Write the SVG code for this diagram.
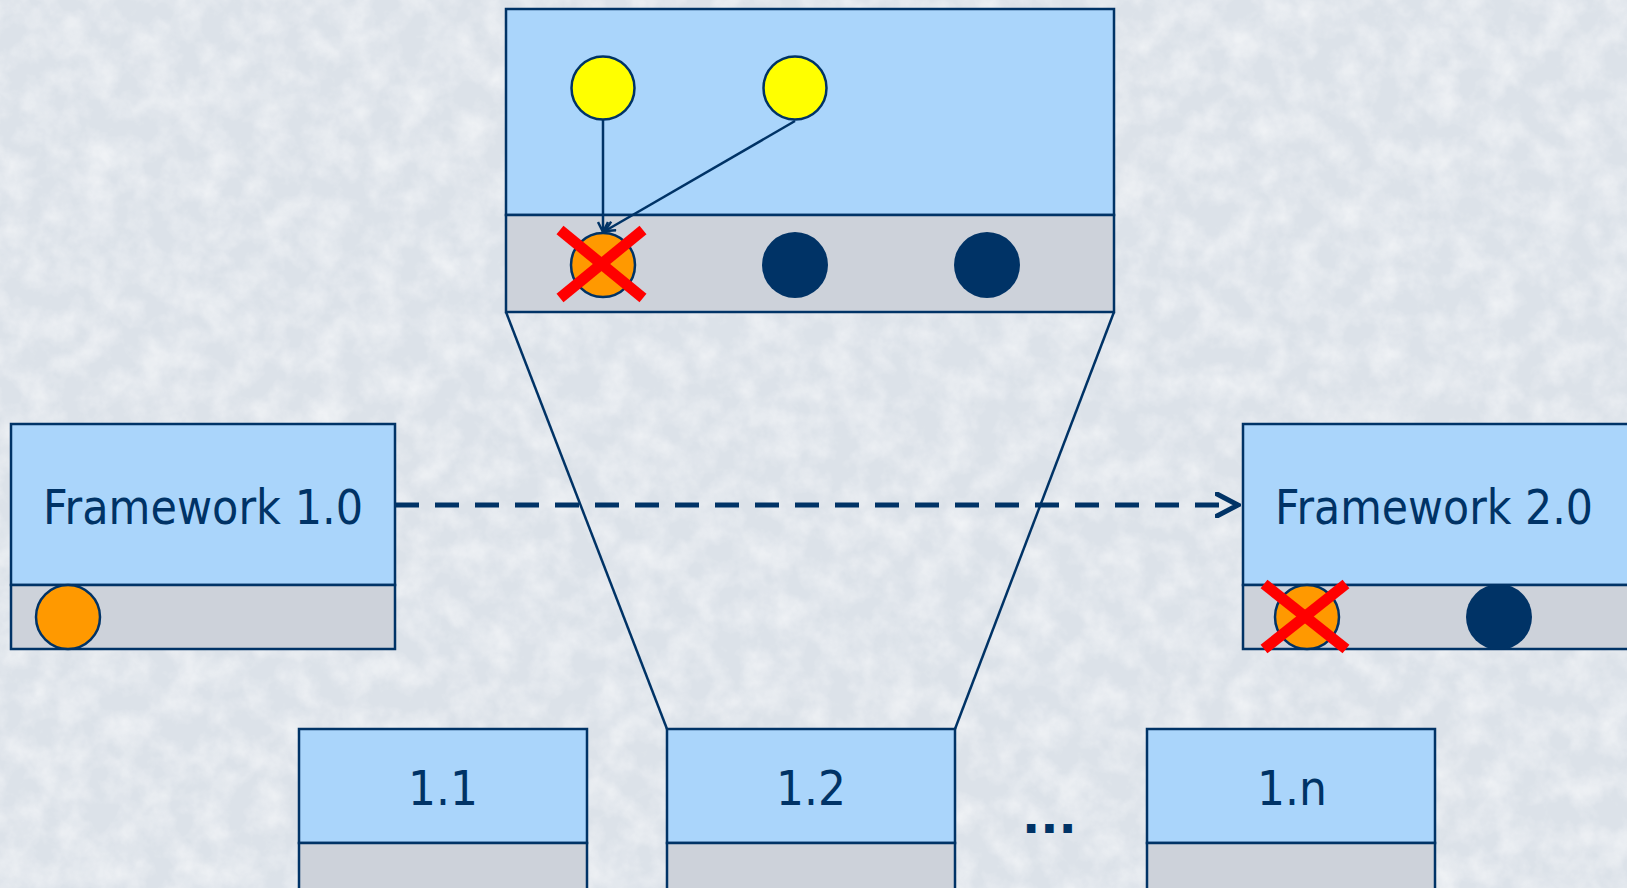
<svg xmlns="http://www.w3.org/2000/svg" width="1627" height="888" viewBox="0 0 1627 888">
<style>
.top{fill:#AAD5FB;stroke:#003366;stroke-width:2.5}
.band{fill:#CDD2DA;stroke:#003366;stroke-width:2.5}
.lbl{font-family:"DejaVu Sans","Liberation Sans",sans-serif;font-size:48px;fill:#003366}
.yel{fill:#FFFF00;stroke:#003366;stroke-width:2.5}
.org{fill:#FF9900;stroke:#003366;stroke-width:2.5}
.dk{fill:#003366}
.x{stroke:#FF0000;stroke-width:11;stroke-linecap:butt}
.ln{stroke:#003366;stroke-width:2.5;fill:none}
</style>
<defs>
<filter id="tex" x="0" y="0" width="100%" height="100%">
<feTurbulence type="fractalNoise" baseFrequency="0.035" numOctaves="4" seed="3"/>
<feColorMatrix type="matrix" values="0 0 0 0 1  0 0 0 0 1  0 0 0 0 1  0 0 0 -1.6 1.05"/>
</filter>
<marker id="openS" viewBox="0 0 12 12" refX="11" refY="6" markerWidth="12" markerHeight="12" markerUnits="userSpaceOnUse" orient="auto">
<path d="M1,1 L11,6 L1,11" fill="none" stroke="#003366" stroke-width="2.5"/>
</marker>
<marker id="openL" viewBox="0 0 26 26" refX="23" refY="13" markerWidth="26" markerHeight="26" markerUnits="userSpaceOnUse" orient="auto">
<path d="M2,2 L23,13 L2,24" fill="none" stroke="#003366" stroke-width="5" stroke-linecap="round" stroke-linejoin="miter"/>
</marker>
</defs>
<rect width="1627" height="888" fill="#DCE2E9"/>
<rect width="1627" height="888" filter="url(#tex)" opacity="0.6"/>

<g id="framework-detail">
<rect class="top" x="506" y="9" width="608" height="206"/>
<rect class="band" x="506" y="215" width="608" height="97"/>
<circle class="yel" cx="603" cy="88" r="31.5"/>
<circle class="yel" cx="795" cy="88" r="31.5"/>
<circle class="org" cx="603" cy="265" r="32"/>
<circle class="dk" cx="795" cy="265" r="33"/>
<circle class="dk" cx="987" cy="265" r="33"/>
</g>

<g id="framework-1-0">
<rect class="top" x="11" y="424" width="384" height="161"/>
<rect class="band" x="11" y="585" width="384" height="64"/>
<circle class="org" cx="68" cy="617" r="32"/>
<text class="lbl" x="43" y="524" textLength="320" lengthAdjust="spacingAndGlyphs">Framework 1.0</text>
</g>

<g id="framework-2-0">
<rect class="top" x="1243" y="424" width="386" height="161"/>
<rect class="band" x="1243" y="585" width="386" height="64"/>
<circle class="org" cx="1307" cy="617" r="32"/>
<circle class="dk" cx="1499" cy="617" r="33"/>
<line class="x" x1="1264" y1="584" x2="1346" y2="649"/>
<line class="x" x1="1346" y1="584" x2="1264" y2="649"/>
<text class="lbl" x="1275" y="524" textLength="318" lengthAdjust="spacingAndGlyphs">Framework 2.0</text>
</g>

<g id="v1-1">
<rect class="top" x="299" y="729" width="288" height="114"/>
<rect class="band" x="299" y="843" width="288" height="60"/>
<text class="lbl" x="408" y="805" textLength="70" lengthAdjust="spacingAndGlyphs">1.1</text>
</g>

<g id="v1-2">
<rect class="top" x="667" y="729" width="288" height="114"/>
<rect class="band" x="667" y="843" width="288" height="60"/>
<text class="lbl" x="776" y="805" textLength="70" lengthAdjust="spacingAndGlyphs">1.2</text>
</g>

<g id="ellipsis">
<text class="lbl" x="1022" y="833" font-weight="bold">...</text>
</g>

<g id="v1-n">
<rect class="top" x="1147" y="729" width="288" height="114"/>
<rect class="band" x="1147" y="843" width="288" height="60"/>
<text class="lbl" x="1257" y="805" textLength="70" lengthAdjust="spacingAndGlyphs">1.n</text>
</g>

<g id="connectors">
<line class="ln" x1="506" y1="312" x2="667" y2="729"/>
<line class="ln" x1="1114" y1="312" x2="955" y2="729"/>
<line x1="395" y1="505" x2="1238" y2="505" stroke="#003366" stroke-width="5" stroke-dasharray="24 16" marker-end="url(#openL)"/>
<line class="ln" x1="603" y1="120" x2="603" y2="232" stroke-width="3" marker-end="url(#openS)"/>
<line class="ln" x1="795" y1="121" x2="605" y2="231" stroke-width="3" marker-end="url(#openS)"/>
</g>

<g id="cross-marks">
<line class="x" x1="560" y1="230" x2="643" y2="298"/>
<line class="x" x1="643" y1="230" x2="560" y2="298"/>
</g>
</svg>
